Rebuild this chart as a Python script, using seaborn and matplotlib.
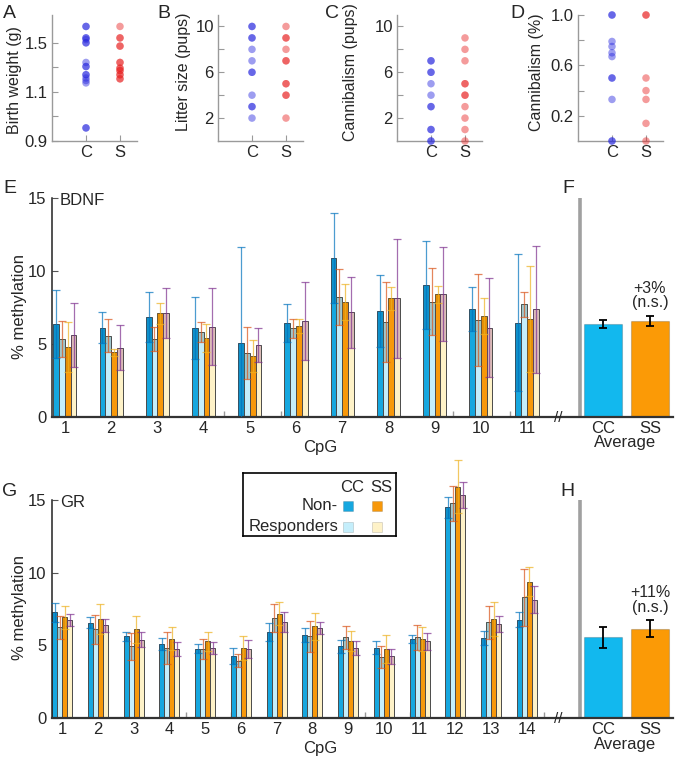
import numpy as np
import pandas as pd
import matplotlib
matplotlib.use("Agg")
import matplotlib.pyplot as plt
import seaborn as sns
from matplotlib.patches import Rectangle

sns.set_style("ticks")
plt.rcParams["font.family"] = ["Liberation Sans", "DejaVu Sans"]

# ---------------- data ----------------
# top row (duplicated values = overlapping points)
A_C = [1.60, 1.60, 1.53, 1.53, 1.52, 1.50, 1.50, 1.38, 1.355, 1.355, 1.305, 1.305, 1.285, 1.27, 1.255, 0.98, 0.98]
A_S = [1.60, 1.53, 1.53, 1.48, 1.48, 1.38, 1.38, 1.345, 1.345, 1.33, 1.33, 1.305, 1.305, 1.28, 1.28]
B_C = [10, 10, 9, 9, 8, 7, 6, 6, 4, 3, 3, 2]
B_S = [10, 9, 9, 8, 7, 7, 5, 5, 4, 4, 2]
C_C = [7, 7, 6, 6, 5, 4, 3, 3, 1, 1, 0, 0]
C_S = [9, 8, 7, 5, 5, 4, 4, 3, 2, 1, 0]
D_C = [1.0, 1.0, 0.79, 0.75, 0.70, 0.67, 0.5, 0.5, 0.33, 0.0, 0.0]
D_S = [1.0, 1.0, 0.5, 0.4, 0.33, 0.14, 0.0]

groups = ["CC Non-responders", "CC Responders", "SS Non-responders", "SS Responders"]

# BDNF (panel E)
cpg_E = list(range(1, 12))
E_ccn = [6.37, 6.12, 6.83, 6.07, 5.09, 6.42, 10.87, 7.26, 9.04, 7.40, 6.46]
E_ccn_err = [2.35, 1.06, 1.71, 2.12, 6.55, 1.30, 3.08, 2.47, 3.01, 1.48, 4.68]
E_ccr = [5.34, 5.57, 5.34, 5.80, 4.41, 6.07, 8.20, 6.48, 7.90, 6.64, 7.72]
E_ccr_err = [1.26, 1.12, 0.85, 0.68, 1.78, 0.64, 1.91, 2.74, 2.28, 3.13, 0.86]
E_ssn = [4.77, 4.43, 7.10, 5.39, 4.18, 6.23, 7.85, 8.13, 8.40, 6.94, 6.71]
E_ssn_err = [1.71, 0.23, 0.73, 0.96, 1.10, 0.48, 1.24, 0.80, 0.60, 1.23, 3.63]
E_ssr = [5.62, 4.75, 7.10, 6.19, 4.93, 6.60, 7.17, 8.13, 8.42, 6.12, 7.37]
E_ssr_err = [2.20, 1.55, 1.71, 2.62, 1.14, 2.67, 2.44, 4.06, 3.20, 3.38, 4.37]

# GR (panel G)
cpg_G = list(range(1, 15))
G_ccn = [7.26, 6.57, 5.61, 5.08, 4.76, 4.28, 5.91, 5.72, 4.92, 4.85, 5.43, 14.50, 5.50, 6.76]
G_ccn_err = [0.64, 0.41, 0.28, 0.42, 0.32, 0.53, 0.62, 0.46, 0.46, 0.46, 0.25, 0.73, 0.50, 0.52]
G_ccr = [6.23, 6.11, 4.92, 4.85, 4.76, 3.94, 6.87, 5.61, 5.54, 4.17, 5.56, 14.77, 6.59, 8.31]
G_ccr_err = [0.80, 0.99, 0.92, 1.10, 0.69, 0.46, 0.98, 1.08, 0.76, 0.75, 0.85, 1.21, 1.15, 1.95]
G_ssn = [6.92, 6.80, 6.11, 5.45, 5.27, 4.81, 7.17, 6.30, 5.31, 4.76, 5.43, 15.92, 6.80, 9.39]
G_ssn_err = [0.82, 1.03, 0.92, 0.80, 0.64, 0.80, 0.78, 0.91, 0.69, 0.96, 0.80, 1.83, 1.17, 0.98]
G_ssr = [6.76, 6.37, 5.38, 4.76, 4.81, 4.76, 6.59, 6.18, 4.81, 4.24, 5.27, 15.34, 6.48, 8.13]
G_ssr_err = [0.41, 0.43, 0.51, 0.50, 0.41, 0.62, 0.69, 0.41, 0.50, 0.50, 0.57, 0.92, 0.55, 0.92]

avg_labels = ["CC", "SS"]
F_avg = [6.37, 6.58]
F_err = [0.27, 0.36]
H_avg = [5.54, 6.14]
H_err = [0.71, 0.59]

# ---------------- style ----------------
blue_pt = "#2626DE"
red_pt = "#E82222"
bar_colors = ["#16A7DF", "#C4EEFB", "#F7980A", "#FEF2C8"]
avg_colors = ["#12B8EE", "#FB9A06"]
err_colors = ["#0072BD", "#D95319", "#EDB120", "#7E2F8E"]
ov_colors = ["#0060A0", "#4E6E62", "#C07800", "#8A3E92"]

W, H = 675, 759
fig = plt.figure(figsize=(W / 100, H / 100), dpi=100)


def rect(x0, y0, x1, y1):
    return [x0 / W, 1 - y1 / H, (x1 - x0) / W, (y1 - y0) / H]


def ftext(x, y, s, **kw):
    fig.text(x / W, 1 - y / H, s, **kw)


# ---------------- top row ----------------
def strip_panel(ax, cvals, svals, ylim, ticks, ticklabels):
    df = pd.DataFrame({"grp": ["C"] * len(cvals) + ["S"] * len(svals),
                       "val": list(cvals) + list(svals)})
    sns.stripplot(data=df, x="grp", y="val", hue="grp", order=["C", "S"],
                  palette={"C": blue_pt, "S": red_pt}, jitter=False, size=5.4,
                  alpha=0.45, linewidth=0, legend=False, ax=ax, clip_on=False)
    ax.set_xlim(-1.0, 1.5)
    ax.set_ylim(*ylim)
    ax.set_yticks(ticks)
    ax.set_yticklabels(ticklabels)
    ax.set_xlabel("")
    ax.set_ylabel("")
    for s in ["top", "right"]:
        ax.spines[s].set_visible(False)
    for s in ["left", "bottom"]:
        ax.spines[s].set_color("#9a9a9a")
        ax.spines[s].set_linewidth(1.0)
    ax.tick_params(direction="in", length=4, color="#9a9a9a", labelsize=12, pad=3)


axA = fig.add_axes(rect(52, 15, 137, 141))
strip_panel(axA, A_C, A_S, (0.9, 1.67), [0.9, 1.05, 1.2, 1.35, 1.5], ["0.9", "", "1.1", "", "1.5"])
axB = fig.add_axes(rect(218, 15, 303, 141))
strip_panel(axB, B_C, B_S, (0, 11), [2, 4, 6, 8, 10], ["2", "", "6", "", "10"])
axC = fig.add_axes(rect(397, 15, 482, 141))
strip_panel(axC, C_C, C_S, (0, 11), [2, 4, 6, 8, 10], ["2", "", "6", "", "10"])
axD = fig.add_axes(rect(578, 15, 663, 141))
strip_panel(axD, D_C, D_S, (0, 1.0), [0.2, 0.4, 0.6, 0.8, 1.0], ["0.2", "", "0.6", "", "1.0"])

ylab_kw = dict(rotation=90, ha="center", va="center", fontsize=11.5)
ftext(15, 80, "Birth weight (g)", **ylab_kw)
ftext(183, 72, "Litter size (pups)", **ylab_kw)
ftext(350, 72, "Cannibalism (pups)", **ylab_kw)
ftext(537, 72, "Cannibalism (%)", **ylab_kw)

let_kw = dict(fontsize=14, va="baseline", ha="left")
ftext(3, 18, "A", **let_kw)
ftext(157, 18, "B", **let_kw)
ftext(325, 18, "C", **let_kw)
ftext(510, 18, "D", **let_kw)


# ---------------- methylation panels ----------------
def meth_panel(ax, cpg, means, errs, width, xlim, tick_step, clip):
    rows = []
    for g, ms in zip(groups, means):
        for c, m in zip(cpg, ms):
            rows.append((c, g, m))
    df = pd.DataFrame(rows, columns=["CpG", "group", "value"])
    sns.barplot(data=df, x="CpG", y="value", hue="group", hue_order=groups,
                palette=bar_colors, saturation=1, native_scale=True, width=width,
                errorbar=None, edgecolor="#4a4a4a", linewidth=0.7, legend=False, ax=ax)
    if not clip:
        for p in ax.patches:
            p.set_clip_on(False)
    bw = width / 4
    offs = (np.arange(4) - 1.5) * bw
    for i in range(4):
        x = np.array(cpg) + offs[i]
        m = np.array(means[i])
        e = np.array(errs[i])
        low = np.clip(m - e, 0, None)
        ax.bar(x, m - low, bottom=low, width=bw, color=ov_colors[i], alpha=0.3,
               lw=0, zorder=2, clip_on=clip)
        eb = ax.errorbar(x, m, yerr=e, fmt="none", ecolor=err_colors[i],
                         elinewidth=0.9, capsize=3.2, capthick=0.9, alpha=0.7, zorder=3)
        for art in list(eb.lines[1]) + list(eb.lines[2]):
            art.set_clip_on(clip)
    ax.set_xlim(*xlim)
    ax.set_ylim(0, 15)
    ax.set_yticks([0, 5, 10, 15])
    ax.set_xticks(cpg)
    ax.set_xticks(np.arange(xlim[0] + tick_step, xlim[1], tick_step), minor=True)
    ax.set_axisbelow(True)
    ax.set_xlabel("")
    ax.set_ylabel("")
    for s in ["top", "right"]:
        ax.spines[s].set_visible(False)
    ax.spines["left"].set_color("#222222")
    ax.spines["left"].set_linewidth(1.1)
    ax.spines["bottom"].set_color("#333333")
    ax.spines["bottom"].set_linewidth(1.6)
    ax.tick_params(axis="y", direction="in", length=4, color="#555555", labelsize=12, pad=4)
    ax.tick_params(axis="x", which="major", length=0, labelsize=12, pad=3)
    ax.tick_params(axis="x", which="minor", direction="in", length=4, color="#999999", width=1)


def avg_panel(ax, vals, errs, note):
    df = pd.DataFrame({"grp": avg_labels, "val": vals})
    sns.barplot(data=df, x="grp", y="val", hue="grp", palette=avg_colors, saturation=1,
                width=0.79, errorbar=None, legend=False, ax=ax,
                edgecolor=(0, 0, 0, 0.18), linewidth=0.8)
    ax.errorbar(range(len(vals)), vals, yerr=errs, fmt="none", ecolor="black",
                elinewidth=1.3, capsize=2.6, capthick=1.3, zorder=3)
    ax.set_xlim(-0.957, 1.49)
    ax.set_ylim(0, 15)
    ax.axvline(-0.49, color="#a0a0a0", lw=2.6, zorder=0)
    ax.set_yticks([])
    ax.set_xlabel("")
    ax.set_ylabel("")
    for s in ["top", "right", "left"]:
        ax.spines[s].set_visible(False)
    ax.spines["bottom"].set_color("#333333")
    ax.spines["bottom"].set_linewidth(1.6)
    ax.tick_params(axis="x", length=0, labelsize=12, pad=3)
    ax.annotate(note, xy=(1, vals[1] + errs[1]), xytext=(0, 4), textcoords="offset points",
                ha="center", va="bottom", fontsize=11.5, linespacing=0.95)


axE = fig.add_axes(rect(52, 198, 558, 417))
meth_panel(axE, cpg_E, [E_ccn, E_ccr, E_ssn, E_ssr], [E_ccn_err, E_ccr_err, E_ssn_err, E_ssr_err],
           0.5, (0.72, 11.67), 1.24, True)
axF = fig.add_axes(rect(558, 198, 673, 417))
avg_panel(axF, F_avg, F_err, "+3%\n(n.s.)")

axG = fig.add_axes(rect(52, 500, 558, 718))
meth_panel(axG, cpg_G, [G_ccn, G_ccr, G_ssn, G_ssr], [G_ccn_err, G_ccr_err, G_ssn_err, G_ssr_err],
           0.56, (0.72, 14.87), 1.25, False)
axH = fig.add_axes(rect(558, 500, 673, 718))
avg_panel(axH, H_avg, H_err, "+11%\n(n.s.)")

ftext(20, 307, "% methylation", **dict(ylab_kw, fontsize=12))
ftext(20, 608, "% methylation", **dict(ylab_kw, fontsize=12))
ftext(320, 447, "CpG", ha="center", va="center", fontsize=12)
ftext(320, 749, "CpG", ha="center", va="center", fontsize=12)
ftext(625, 443, "Average", ha="center", va="center", fontsize=12)
ftext(625, 745, "Average", ha="center", va="center", fontsize=12)
ftext(558, 418, "//", ha="center", va="center", fontsize=11)
ftext(558, 719, "//", ha="center", va="center", fontsize=11)

ftext(3, 193, "E", **let_kw)
ftext(562, 193, "F", **let_kw)
ftext(2, 496, "G", **let_kw)
ftext(560, 496, "H", **let_kw)
ftext(60, 205, "BDNF", fontsize=12, va="baseline", ha="left")
ftext(60, 507, "GR", fontsize=12, va="baseline", ha="left")

# ---------------- legend ----------------
axL = fig.add_axes(rect(243, 473, 396, 536))
axL.set_xlim(0, 153)
axL.set_ylim(63, 0)
axL.set_xticks([])
axL.set_yticks([])
for s in axL.spines.values():
    s.set_color("black")
    s.set_linewidth(1.2)
axL.text(109, 15, "CC", ha="center", va="center", fontsize=12)
axL.text(138, 15, "SS", ha="center", va="center", fontsize=12)
axL.text(95, 33, "Non-", ha="right", va="center", fontsize=12)
axL.text(95, 54, "Responders", ha="right", va="center", fontsize=12)
sq_pos = [(105, 33), (105, 54), (134, 33), (134, 54)]
for (cx, cy), col in zip(sq_pos, bar_colors):
    axL.add_patch(Rectangle((cx - 5, cy - 5), 10, 10, facecolor=col,
                            edgecolor=(0, 0, 0, 0.15), lw=0.6))

fig.savefig("out.png", dpi=100)
